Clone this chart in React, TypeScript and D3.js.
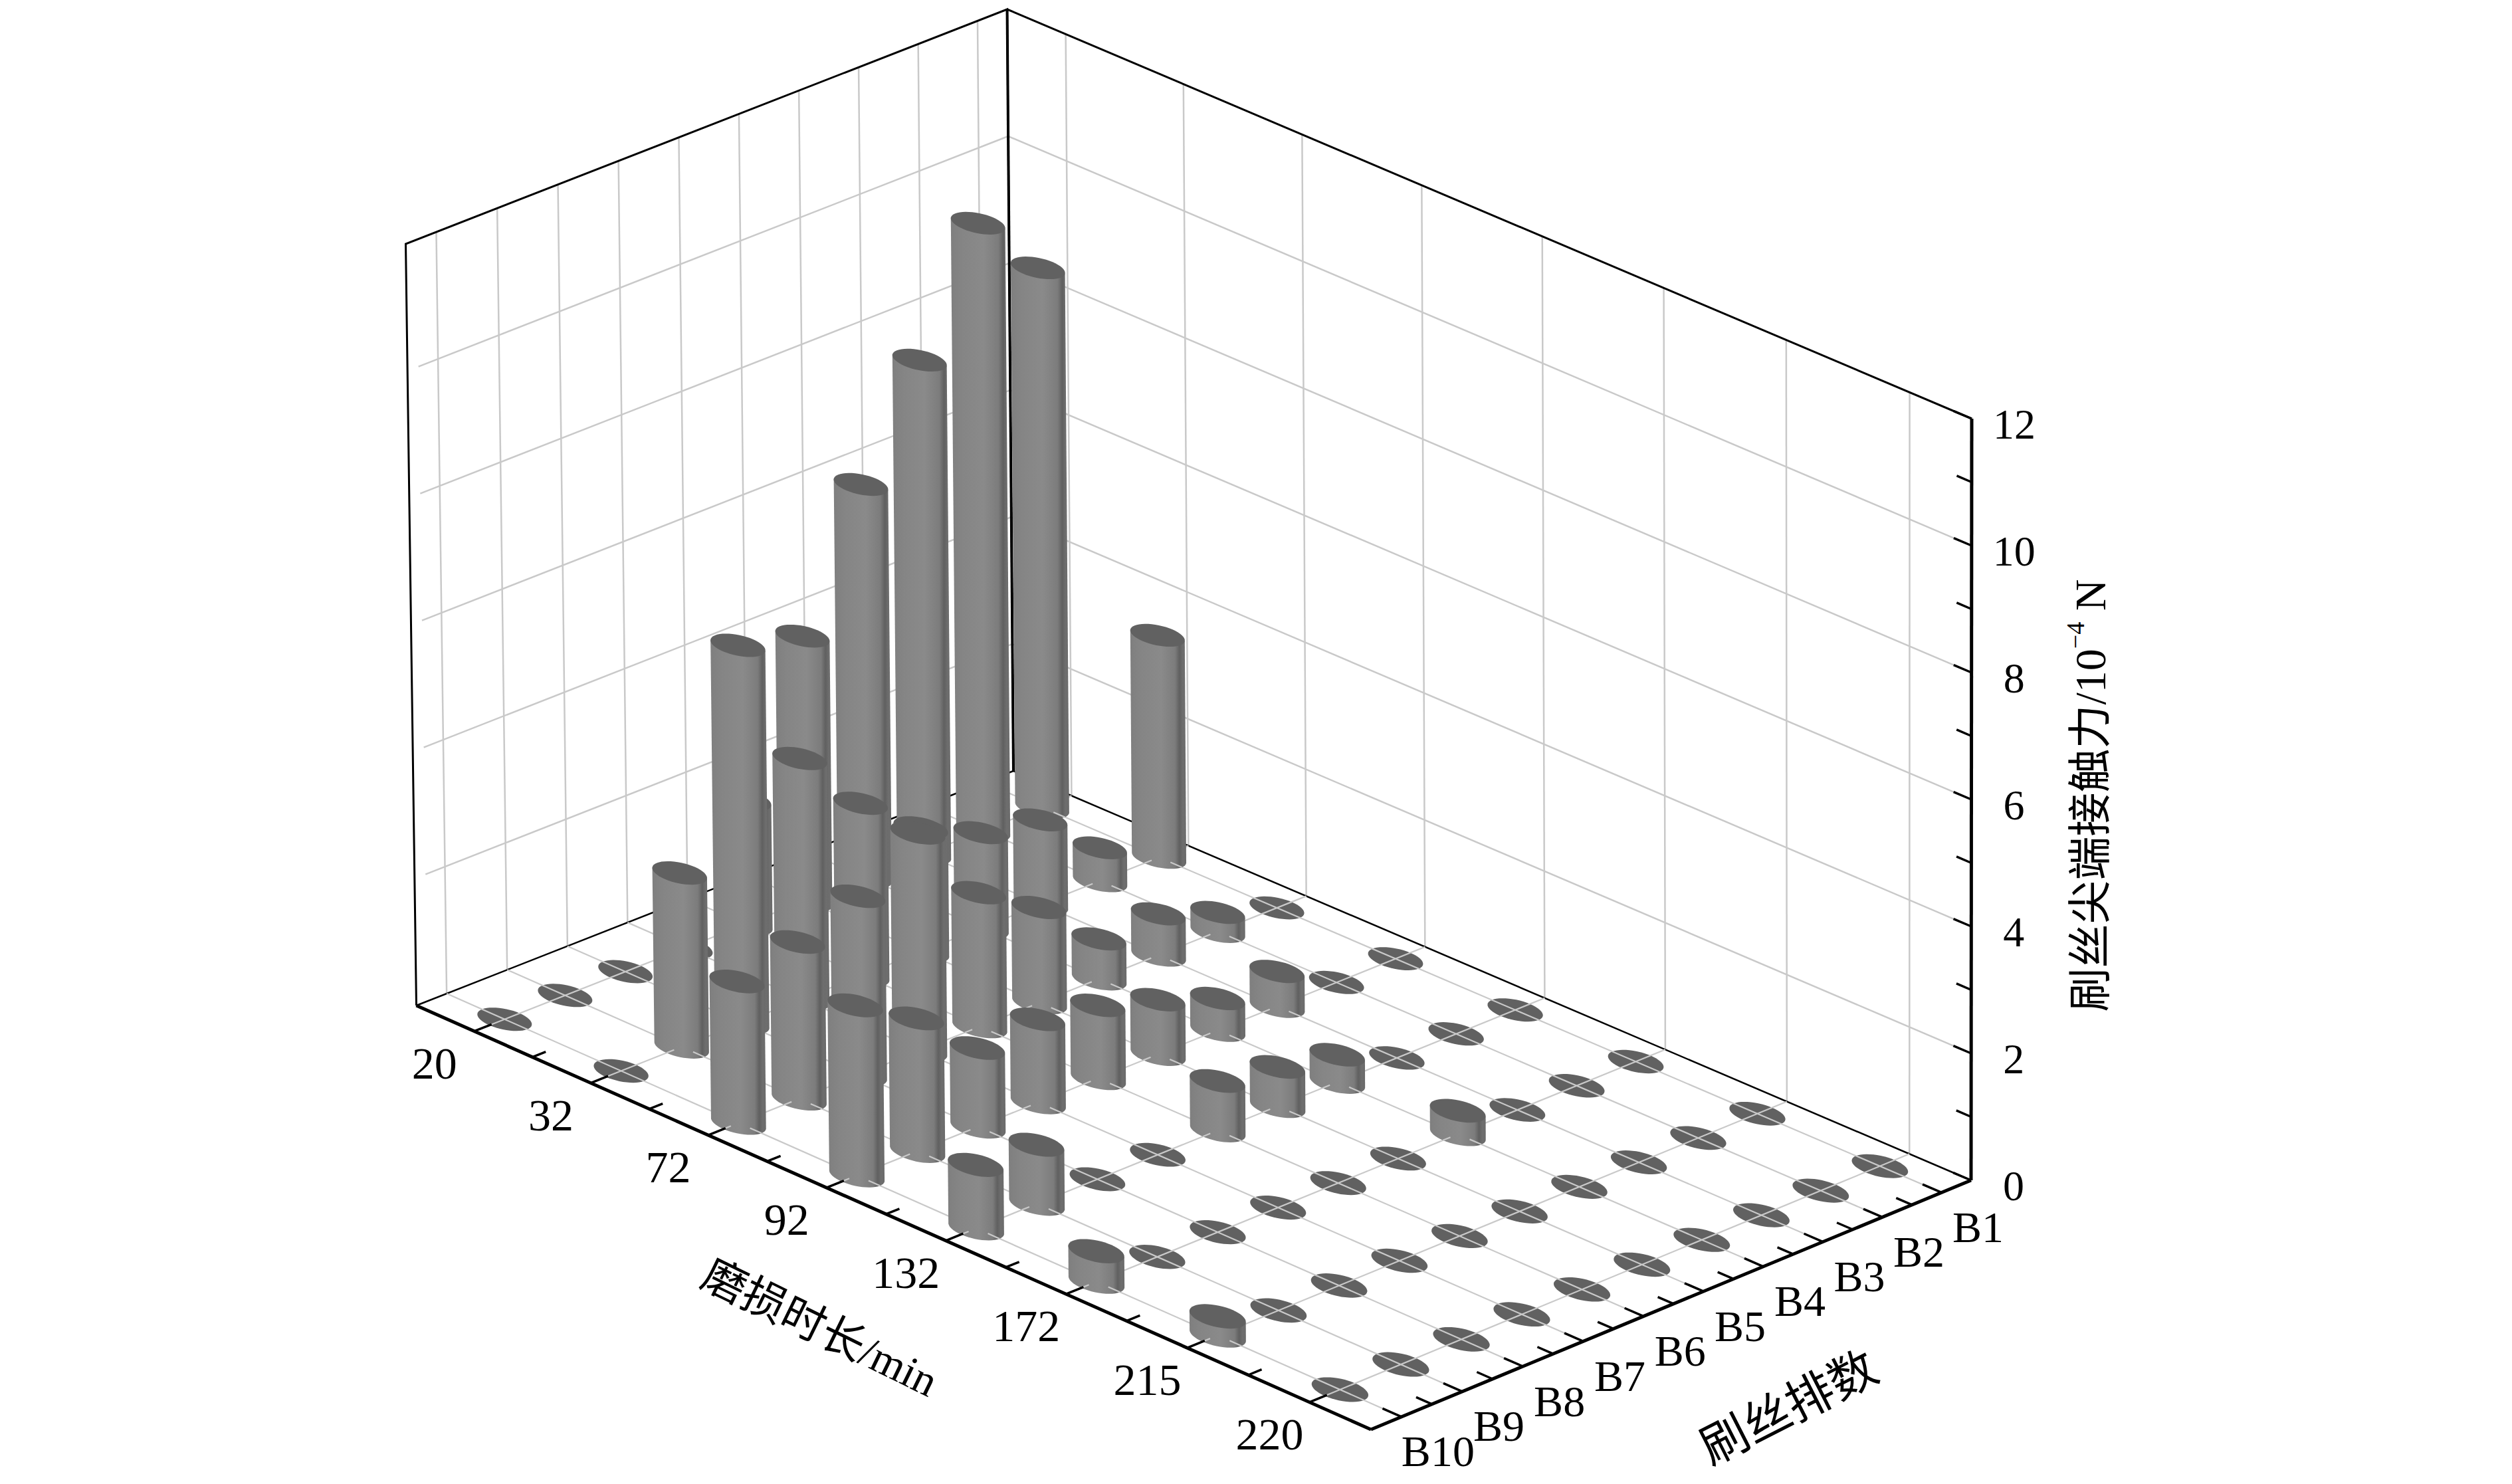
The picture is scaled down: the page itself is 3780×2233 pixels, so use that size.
import React from 'react';
import * as d3 from 'd3';

const width = 3780;
const height = 2233;

const times = ['20', '32', '72', '92', '132', '172', '215', '220'];
const rows = ['B1', 'B2', 'B3', 'B4', 'B5', 'B6', 'B7', 'B8', 'B9', 'B10'];
const zTicks = [0, 2, 4, 6, 8, 10, 12];
const zMinor = [1, 3, 5, 7, 9, 11];

// contact force per row B1..B10, one list per wear time
const wear20 = [8.5, 9.57, 7.78, 6.19, 4.17, 1.96, 0, 0, 0, 0];
const wear32 = [3.5, 0.52, 1.33, 1.5, 1.95, 2.71, 3.79, 5.95, 2.74, 0];
const wear72 = [0, 0.3, 0.65, 0.63, 1.5, 2.11, 3.43, 2.81, 2.47, 2.23];
const wear92 = [0, 0, 0.55, 0.5, 0.86, 1.15, 1.31, 1.24, 2.09, 2.68];
const wear132 = [0, 0, 0, 0.43, 0.62, 0.78, 0, 0, 0.93, 1.0];
const wear172 = [0, 0, 0, 0.37, 0, 0, 0, 0, 0, 0.48];
const wear215 = [0, 0, 0, 0, 0, 0, 0, 0, 0, 0.3];
const wear220 = [0, 0, 0, 0, 0, 0, 0, 0, 0, 0];
const series = [wear20, wear32, wear72, wear92, wear132, wear172, wear215, wear220];

const serif = '"Liberation Serif", "Noto Sans CJK SC", serif';

// floor corners on screen: left, front, right, back
const L: [number, number] = [626.5, 1513];
const F: [number, number] = [2063, 2151];
const R: [number, number] = [2966, 1776];
const B: [number, number] = [1525, 1160];

// unit square -> floor quad
const dx1 = F[0] - R[0];
const dx2 = B[0] - R[0];
const sx = L[0] - F[0] + R[0] - B[0];
const dy1 = F[1] - R[1];
const dy2 = B[1] - R[1];
const sy = L[1] - F[1] + R[1] - B[1];
const den = dx1 * dy2 - dx2 * dy1;
const g = (sx * dy2 - dx2 * sy) / den;
const h = (dx1 * sy - sx * dy1) / den;
const a = F[0] - L[0] + g * F[0];
const b = B[0] - L[0] + h * B[0];
const d = F[1] - L[1] + g * F[1];
const e = B[1] - L[1] + h * B[1];

const zScale = d3.scaleLinear().domain([0, 12]).range([0, 1146]);
// vertical edges lean a little, the left wall more than the right
const lean = d3.scaleLinear().domain([626, 2966]).range([-16, 1]);

const project = (u: number, v: number, z = 0): [number, number] => {
  const w = g * u + h * v + 1;
  const x = (a * u + b * v + L[0]) / w;
  const y = (d * u + e * v + L[1]) / w;
  return [x + (lean(x) * z) / 12, y - zScale(z)];
};

const uScale = d3.scaleBand<string>().domain(times).range([0, 1]);
const vScale = d3.scaleBand<string>().domain([...rows].reverse()).range([0, 1]);
const uCenter = (t: string) => (uScale(t) as number) + uScale.bandwidth() / 2;
const vCenter = (r: string) => (vScale(r) as number) + vScale.bandwidth() / 2;
const ru = uScale.bandwidth() * 0.195;
const rv = vScale.bandwidth() * 0.25;

const lineGen = d3.line<[number, number]>();
const seg = (p: [number, number], q: [number, number]) => lineGen([p, q]) || '';

const ellipsePts = (u: number, v: number, z: number): [number, number][] =>
  d3.range(48).map((k) => {
    const t = (k / 48) * 2 * Math.PI;
    return project(u + ru * Math.cos(t), v + rv * Math.sin(t), z);
  });

const closed = (pts: [number, number][]) => (lineGen(pts) || '') + 'Z';

const bodyPath = (u: number, v: number, z: number) => {
  const top = ellipsePts(u, v, z);
  const bot = ellipsePts(u, v, 0);
  const iMin = d3.leastIndex(bot, (p, q) => p[0] - q[0]) as number;
  const iMax = d3.greatestIndex(bot, (p) => p[0]) as number;
  const walk = (step: number) => {
    const out: [number, number][] = [];
    let k = iMin;
    while (k !== iMax) {
      out.push(bot[k]);
      k = (k + step + 48) % 48;
    }
    out.push(bot[iMax]);
    return out;
  };
  const f = walk(1);
  const r = walk(-1);
  const lower = (d3.mean(f, (p) => p[1]) as number) > (d3.mean(r, (p) => p[1]) as number) ? f : r;
  return closed([top[iMin], ...lower, top[iMax]]);
};

const gridColor = '#c9c9c9';
const barCells = times
  .flatMap((t, i) => rows.map((r, j) => ({ t, r, z: series[i][j], u: uCenter(t), v: vCenter(r) })))
  .sort((p, q) => project(p.u, p.v)[1] - project(q.u, q.v)[1]);

const timeOffset: [number, number] = [-60, 48];
const rowOffset: [number, number] = [55, 52];
const tickU = 0.016;
const tickV = 0.022;

const App = () => {
  const minorU = d3.range(1, times.length).map((k) => k * uScale.step());
  const minorV = d3.range(1, rows.length).map((k) => k * vScale.step());
  const p0 = project(0, 0);
  const pF = project(1, 0);
  const pR = project(1, 1);
  const pB = project(0, 1);
  const topL = project(0, 0, 12);
  const topB = project(0, 1, 12);
  const topR = project(1, 1, 12);
  const xMid: [number, number] = [1234, 1998];
  const rMid: [number, number] = [2692, 2119];

  return (
    <svg
      width={width}
      height={height}
      viewBox={`0 0 ${width} ${height}`}
      style={{ position: 'absolute', left: 0, top: 0, background: '#fff' }}
    >
      <defs>
        <linearGradient id="barBody" x1="0" x2="1" y1="0" y2="0">
          <stop offset="0" stopColor="#7f7f7f" />
          <stop offset="0.2" stopColor="#858585" />
          <stop offset="0.55" stopColor="#8a8a8a" />
          <stop offset="0.8" stopColor="#7c7c7c" />
          <stop offset="0.88" stopColor="#606060" />
          <stop offset="0.94" stopColor="#6e6e6e" />
          <stop offset="1" stopColor="#6a6a6a" />
        </linearGradient>
      </defs>

      {/* wall grid */}
      <g stroke={gridColor} strokeWidth={2.5} fill="none">
        {rows.map((r) => (
          <path key={r} d={seg(project(0, vCenter(r)), project(0, vCenter(r), 12))} />
        ))}
        {times.map((t) => (
          <path key={t} d={seg(project(uCenter(t), 1), project(uCenter(t), 1, 12))} />
        ))}
        {zTicks.slice(1, -1).map((z) => (
          <g key={z}>
            <path d={seg(project(0, 0.018, z), project(0, 1, z))} />
            <path d={seg(project(0, 1, z), project(0.982, 1, z))} />
          </g>
        ))}
      </g>

      {/* walls and back floor edges */}
      <g stroke="#000" fill="none">
        <path d={closed([p0, topL, topB, pB]).replace('Z', '')} strokeWidth={3} />
        <path d={seg(topB, topR)} strokeWidth={3} />
        <path d={seg(pB, topB)} strokeWidth={4} />
        <path d={seg(p0, pB)} strokeWidth={2.5} />
        <path d={seg(pB, pR)} strokeWidth={2.5} />
      </g>

      {/* empty cells sit under the floor grid */}
      {barCells
        .filter((c) => c.z === 0)
        .map((c) => (
          <path key={c.t + c.r} d={closed(ellipsePts(c.u, c.v, 0))} fill="#616161" />
        ))}

      <g stroke={gridColor} strokeWidth={2.2} fill="none">
        {rows.map((r) => (
          <path key={r} d={seg(project(0, vCenter(r)), project(1, vCenter(r)))} />
        ))}
        {times.map((t) => (
          <path key={t} d={seg(project(uCenter(t), 0), project(uCenter(t), 1))} />
        ))}
      </g>

      {/* cylinders back to front */}
      {barCells
        .filter((c) => c.z > 0)
        .map((c) => (
          <g key={c.t + c.r}>
            <path d={bodyPath(c.u, c.v, c.z)} fill="url(#barBody)" />
            <path d={closed(ellipsePts(c.u, c.v, c.z))} fill="#616161" />
            <g stroke={gridColor} strokeWidth={2.2}>
              <path d={seg(project(c.u + ru * 0.5, c.v), project(c.u + ru, c.v))} />
              <path d={seg(project(c.u, c.v - rv * 0.5), project(c.u, c.v - rv))} />
            </g>
          </g>
        ))}

      {/* front axes */}
      <g stroke="#000" fill="none">
        <path d={seg(p0, pF)} strokeWidth={5} />
        <path d={seg(pF, pR)} strokeWidth={5} />
        <path d={seg(pR, topR)} strokeWidth={5} />
        {times.map((t) => (
          <path key={t} d={seg(project(uCenter(t), 0), project(uCenter(t), tickV * 1.3))} strokeWidth={3.5} />
        ))}
        {minorU.map((u) => (
          <path key={u} d={seg(project(u, 0), project(u, tickV))} strokeWidth={3.5} />
        ))}
        {rows.map((r) => (
          <path key={r} d={seg(project(1, vCenter(r)), project(1 - tickU * 1.2, vCenter(r)))} strokeWidth={3.5} />
        ))}
        {minorV.map((v) => (
          <path key={v} d={seg(project(1, v), project(1 - tickU, v))} strokeWidth={3.5} />
        ))}
        {zTicks.map((z) => (
          <path key={z} d={seg(project(1, 1, z), project(0.982, 1, z))} strokeWidth={3.5} />
        ))}
        {zMinor.map((z) => (
          <path key={z} d={seg(project(1, 1, z), project(0.985, 1, z))} strokeWidth={3.5} />
        ))}
      </g>

      {/* labels */}
      <g fontFamily={serif} fill="#000" textAnchor="middle" dominantBaseline="central">
        {times.map((t) => {
          const [x, y] = project(uCenter(t), 0);
          return (
            <text key={t} x={x + timeOffset[0]} y={y + timeOffset[1]} fontSize={68}>
              {t}
            </text>
          );
        })}
        {rows.map((r) => {
          const [x, y] = project(1, vCenter(r));
          return (
            <text key={r} x={x + rowOffset[0]} y={y + rowOffset[1]} fontSize={66}>
              {r}
            </text>
          );
        })}
        {zTicks.map((z) => {
          const [x, y] = project(1, 1, z);
          return (
            <text key={z} x={x + 64} y={y + 8} fontSize={64}>
              {z}
            </text>
          );
        })}
      </g>

      <g fontFamily={serif} fill="#000" textAnchor="middle" dominantBaseline="central">
        <text fontSize={66} transform={`translate(${xMid[0]},${xMid[1]}) rotate(26)`}>
          磨损时长/min
        </text>
        <text fontSize={72} transform={`translate(${rMid[0]},${rMid[1]}) rotate(-27)`}>
          刷丝排数
        </text>
        <text fontSize={66} transform="translate(3145,1197) rotate(-90)">
          刷丝尖端接触力/10
          <tspan fontSize={38} dy={-22}>
            −4
          </tspan>
          <tspan dy={22}> N</tspan>
        </text>
      </g>
    </svg>
  );
};

export default App;
